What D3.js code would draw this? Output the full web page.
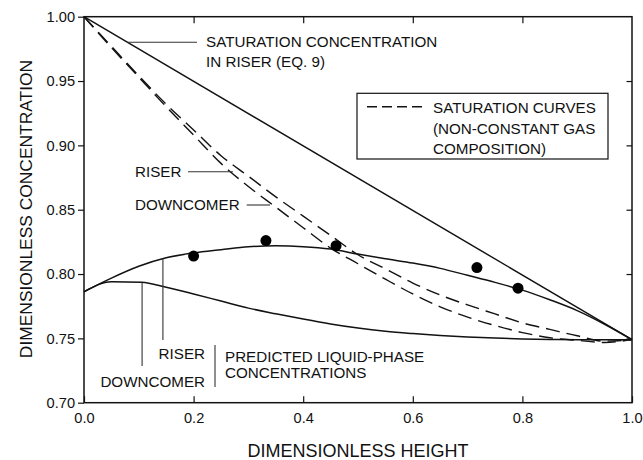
<!DOCTYPE html>
<html>
<head>
<meta charset="utf-8">
<script src="https://cdn.jsdelivr.net/npm/d3@7"></script>
<style>
  body { margin: 0; background: #fff; }
  text { font-family: "Liberation Sans", Arial, Helvetica, sans-serif; fill: #111; }
</style>
</head>
<body>
<svg id="chart" width="643" height="460"></svg>
<script>
// Dimensionless height grid shared by the saturation curves and the riser liquid curve
const heights = [0, 0.05, 0.10, 0.15, 0.20, 0.25, 0.30, 0.35, 0.40, 0.45, 0.50,
                 0.55, 0.60, 0.65, 0.70, 0.75, 0.80, 0.85, 0.90, 0.95, 1.00];

// Saturation curves, non-constant gas composition (dashed)
const riserSaturation = [1.000, 0.977, 0.954, 0.932, 0.912, 0.892, 0.876, 0.860, 0.845, 0.830, 0.815,
                         0.804, 0.793, 0.7837, 0.776, 0.769, 0.762, 0.757, 0.752, 0.7478, 0.749];
const downcomerSaturation = [1.000, 0.976, 0.953, 0.930, 0.908, 0.886, 0.868, 0.852, 0.836, 0.8202, 0.808,
                             0.796, 0.7845, 0.7745, 0.7665, 0.760, 0.7545, 0.7505, 0.7485, 0.7468, 0.749];

// Saturation concentration in riser, Eq. 9 (straight line)
const eq9Heights = [0, 1];
const eq9Concentration = [1.000, 0.749];

// Predicted liquid-phase concentrations
const riserLiquid = [0.7862, 0.7968, 0.8060, 0.8126, 0.8164, 0.8189, 0.8212, 0.8219, 0.8213, 0.8194, 0.8155,
                     0.8118, 0.8085, 0.8044, 0.7990, 0.7935, 0.7875, 0.7800, 0.7716, 0.7610, 0.7490];
const downcomerLiquidHeights = [0, 0.05, 0.105, 0.15, 0.20, 0.25, 0.30, 0.35, 0.40, 0.45, 0.50,
                                0.55, 0.60, 0.65, 0.70, 0.75, 0.80, 0.85, 0.90, 0.95, 1.00];
const downcomerLiquid = [0.7862, 0.7940, 0.7936, 0.7897, 0.7845, 0.7790, 0.7735, 0.7691, 0.7650, 0.7612, 0.7580,
                         0.7555, 0.7537, 0.7522, 0.7510, 0.7502, 0.7496, 0.7492, 0.7490, 0.7490, 0.7490];

// Measured points
const measuredHeights = [0.200, 0.332, 0.460, 0.717, 0.792];
const measuredConcentration = [0.814, 0.826, 0.822, 0.805, 0.789];

// Axis ticks
const xTicks = [0, 0.2, 0.4, 0.6, 0.8, 1.0];
const xTickLabels = ["0.0", "0.2", "0.4", "0.6", "0.8", "1.0"];
const yTicks = [0.70, 0.75, 0.80, 0.85, 0.90, 0.95, 1.00];
const yTickLabels = ["0.70", "0.75", "0.80", "0.85", "0.90", "0.95", "1.00"];

const svg = d3.select("#chart");
const plotLeft = 84, plotRight = 632, plotTop = 16.7, plotBottom = 402.7;

const x = d3.scaleLinear().domain([0, 1]).range([plotLeft, plotRight]);
const y = d3.scaleLinear().domain([0.70, 1.00]).range([plotBottom, plotTop]);

const ink = "#121212";

// Axes
const axisG = svg.append("g");
axisG.append("g").attr("transform", `translate(${plotLeft},0)`)
  .call(d3.axisLeft(y).tickValues(yTicks).tickFormat((d, i) => yTickLabels[i])
    .tickSize(6).tickSizeOuter(0).tickPadding(3));
axisG.append("g").attr("transform", `translate(0,${plotBottom})`)
  .call(d3.axisBottom(x).tickValues(xTicks).tickFormat((d, i) => xTickLabels[i])
    .tickSize(-6.5).tickSizeOuter(0).tickPadding(10));
axisG.append("g").attr("transform", `translate(0,${plotTop})`)
  .call(d3.axisTop(x).tickValues(xTicks.slice(1, -1)).tickFormat("")
    .tickSize(-6.5).tickSizeOuter(0));
axisG.append("g").attr("transform", `translate(${plotRight},0)`)
  .call(d3.axisRight(y).tickValues(yTicks.slice(1, -1)).tickFormat("")
    .tickSize(-5.5).tickSizeOuter(0));

axisG.selectAll(".domain").remove();
axisG.selectAll(".tick line").attr("stroke", ink).attr("stroke-width", 1.2);
axisG.selectAll(".tick text").attr("font-size", "14.6px").attr("fill", "#111")
  .style("font-family", '"Liberation Sans", Arial, sans-serif');

// Frame
svg.append("rect")
  .attr("x", plotLeft).attr("y", plotTop)
  .attr("width", plotRight - plotLeft).attr("height", plotBottom - plotTop)
  .attr("fill", "none").attr("stroke", ink).attr("stroke-width", 1.5);

// Axis titles
svg.append("text")
  .attr("x", (plotLeft + plotRight) / 2).attr("y", 457)
  .attr("text-anchor", "middle").attr("font-size", "18px")
  .text("DIMENSIONLESS HEIGHT");
svg.append("text")
  .attr("transform", `translate(31.5,${209}) rotate(-90)`)
  .attr("text-anchor", "middle").attr("font-size", "17.4px")
  .text("DIMENSIONLESS CONCENTRATION");

// Curves
const line = d3.line().x(d => x(d[0])).y(d => y(d[1])).curve(d3.curveMonotoneX);
const zip = (xs, ys) => xs.map((v, i) => [v, ys[i]]);

const plot = svg.append("g");
plot.append("path").datum(zip(eq9Heights, eq9Concentration))
  .attr("d", d3.line().x(d => x(d[0])).y(d => y(d[1])))
  .attr("fill", "none").attr("stroke", ink).attr("stroke-width", 1.45);

[riserSaturation, downcomerSaturation].forEach(vals => {
  plot.append("path").datum(zip(heights, vals))
    .attr("d", line)
    .attr("fill", "none").attr("stroke", ink).attr("stroke-width", 1.4)
    .attr("stroke-dasharray", "14,7");
});

plot.append("path").datum(zip(heights, riserLiquid))
  .attr("d", line).attr("fill", "none").attr("stroke", ink).attr("stroke-width", 1.5);
plot.append("path").datum(zip(downcomerLiquidHeights, downcomerLiquid))
  .attr("d", line).attr("fill", "none").attr("stroke", ink).attr("stroke-width", 1.5);

plot.selectAll("circle.pt").data(zip(measuredHeights, measuredConcentration))
  .join("circle").attr("class", "pt")
  .attr("cx", d => x(d[0])).attr("cy", d => y(d[1])).attr("r", 5.5)
  .attr("fill", "#000");

// Annotations
const ann = svg.append("g");
const lead = (x1, y1, x2, y2) => ann.append("line")
  .attr("x1", x1).attr("y1", y1).attr("x2", x2).attr("y2", y2)
  .attr("stroke", "#333").attr("stroke-width", 1.1);
const label = (tx, ty, str, anchor) => ann.append("text")
  .attr("x", tx).attr("y", ty).attr("font-size", "15.2px")
  .attr("text-anchor", anchor || "start").text(str);

// Eq. 9 label with leader from the straight line
const eqAt = 0.079;
const eqVal = eq9Concentration[0] + (eq9Concentration[1] - eq9Concentration[0]) * eqAt;
lead(x(eqAt), y(eqVal), 197, y(eqVal));
label(206, 46.5, "SATURATION CONCENTRATION");
label(206, 66.5, "IN RISER (EQ. 9)");

// Legend box
ann.append("rect").attr("x", 357).attr("y", 93.3).attr("width", 251).attr("height", 65.7)
  .attr("fill", "#fff").attr("stroke", ink).attr("stroke-width", 1.2);
ann.append("line").attr("x1", 367).attr("x2", 422).attr("y1", 106.7).attr("y2", 106.7)
  .attr("stroke", ink).attr("stroke-width", 1.4).attr("stroke-dasharray", "10,5");
label(433, 113.3, "SATURATION CURVES");
label(433, 133.8, "(NON-CONSTANT GAS");
label(433, 153.8, "COMPOSITION)");

// Labels for the two dashed curves
label(135, 176.5, "RISER");
lead(188, 171.7, 233, 171.7);
label(135, 209.5, "DOWNCOMER");
lead(246.7, 205, 270, 205);

// Predicted liquid-phase labels
const riserLeadX = 0.144, downLeadX = 0.106;
const riserLeadY = d3.scaleLinear().domain(heights).range(riserLiquid)(riserLeadX);
const downLeadY = d3.scaleLinear().domain(downcomerLiquidHeights).range(downcomerLiquid)(downLeadX);
lead(x(riserLeadX), y(riserLeadY), x(riserLeadX), 340);
lead(x(downLeadX), y(downLeadY), x(downLeadX), 366);
label(205, 359.3, "RISER", "end");
label(205, 386.5, "DOWNCOMER", "end");
lead(215, 345, 215, 387);
label(225, 361.5, "PREDICTED LIQUID-PHASE");
label(225, 377.5, "CONCENTRATIONS");
</script>
</body>
</html>
